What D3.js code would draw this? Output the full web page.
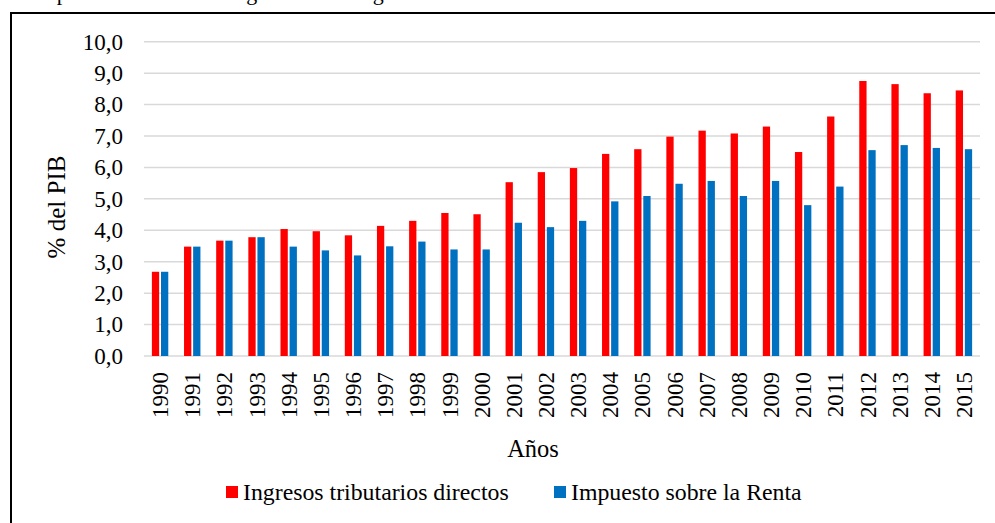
<!DOCTYPE html>
<html>
<head>
<meta charset="utf-8">
<script src="https://cdn.jsdelivr.net/npm/d3@7"></script>
<style>
  html, body { margin: 0; padding: 0; background: #fff; overflow: hidden; }
  svg { display: block; }
  svg text { font-family: 'Liberation Serif', 'Times New Roman', serif !important; }
</style>
</head>
<body>
<svg id="chart" width="995" height="523"></svg>
<script>
const years = ["1990","1991","1992","1993","1994","1995","1996","1997","1998","1999","2000","2001","2002","2003","2004","2005","2006","2007","2008","2009","2010","2011","2012","2013","2014","2015"];
const ingresosDirectos = [2.68,3.48,3.67,3.78,4.04,3.97,3.84,4.14,4.30,4.55,4.51,5.53,5.85,5.98,6.43,6.58,6.98,7.17,7.08,7.30,6.49,7.62,8.75,8.65,8.36,8.45];
const impuestoRenta    = [2.68,3.48,3.67,3.78,3.48,3.36,3.20,3.49,3.64,3.39,3.39,4.24,4.10,4.30,4.92,5.09,5.48,5.57,5.09,5.57,4.80,5.39,6.55,6.71,6.62,6.58];
const seriesNames = ["Ingresos tributarios directos", "Impuesto sobre la Renta"];
const seriesColors = ["#FF0000", "#0070C0"];
const yTicks = [0,1,2,3,4,5,6,7,8,9,10];
const yTitle = "% del PIB";
const xTitle = "Años";
const caption = "Composición tributaria: ingresos en la región";

const FONT = "'Liberation Serif', 'Times New Roman', serif";
const svg = d3.select("#chart");
const fmt = v => d3.format(".1f")(v).replace(".", ",");

// caption above the frame, clipped by the picture's top edge as in the source
svg.append("text").attr("x", 14).attr("y", 0).attr("font-size", 22)
  .attr("font-family", FONT).attr("fill", "#000").text(caption);

// outer frame (extends past right and bottom edges)
svg.append("rect").attr("x", 11).attr("y", 13).attr("width", 1000).attr("height", 520)
  .attr("fill", "none").attr("stroke", "#000").attr("stroke-width", 2);

const x0 = d3.scaleBand().domain(years).range([144, 980]).paddingInner(0.49).paddingOuter(0.245);
const x1 = d3.scaleBand().domain([0,1]).range([0, x0.bandwidth()]).paddingInner(0.2);
const y = d3.scaleLinear().domain([0, 10]).range([356, 41.7]);

// gridlines
svg.append("g").selectAll("line").data(yTicks).join("line")
  .attr("x1", 144).attr("x2", 980)
  .attr("y1", d => y(d)).attr("y2", d => y(d))
  .attr("stroke", "#D9D9D9").attr("stroke-width", 1.5);

// y axis labels
const yAxis = d3.axisLeft(y).tickValues(yTicks).tickFormat(fmt).tickSize(0).tickPadding(0);
const yg = svg.append("g").attr("transform", "translate(123,0)").call(yAxis)
  .attr("font-family", FONT).attr("font-size", 23);
yg.select(".domain").remove();
yg.selectAll("text").attr("fill", "#000");

// bars
const data = years.map((yr, i) => ({ year: yr, vals: [ingresosDirectos[i], impuestoRenta[i]] }));
const groups = svg.append("g").selectAll("g").data(data).join("g")
  .attr("transform", d => `translate(${x0(d.year)},0)`);
groups.selectAll("rect").data(d => d.vals.map((v, k) => ({ v, k }))).join("rect")
  .attr("x", d => x1(d.k))
  .attr("width", x1.bandwidth())
  .attr("y", d => y(d.v))
  .attr("height", d => y(0) - y(d.v))
  .attr("fill", d => seriesColors[d.k]);

// x axis labels (rotated)
const xAxis = d3.axisBottom(x0).tickSize(0).tickPadding(0);
const xg = svg.append("g").attr("transform", "translate(0,356)").call(xAxis)
  .attr("font-family", FONT).attr("font-size", 23);
xg.select(".domain").remove();
xg.selectAll("text")
  .attr("fill", "#000")
  .attr("text-anchor", "end")
  .attr("transform", "rotate(-90)")
  .attr("x", -16).attr("y", 0).attr("dy", "0.35em");

// axis titles
svg.append("text").attr("x", 533).attr("y", 457).attr("text-anchor", "middle")
  .attr("font-family", FONT).attr("font-size", 24.5).attr("fill", "#000").text(xTitle);
svg.append("text").attr("transform", "translate(65,207) rotate(-90)").attr("text-anchor", "middle")
  .attr("font-family", FONT).attr("font-size", 25).attr("fill", "#000").text(yTitle);

// legend
const legendX = [226, 554];
const lg = svg.append("g").selectAll("g").data(seriesNames).join("g")
  .attr("transform", (d, i) => `translate(${legendX[i]},486)`);
lg.append("rect").attr("width", 12).attr("height", 12).attr("fill", (d, i) => seriesColors[i]);
lg.append("text").attr("x", 17).attr("y", 13.5).attr("font-family", FONT).attr("font-size", 23.8)
  .attr("fill", "#000").text(d => d);
</script>
</body>
</html>
